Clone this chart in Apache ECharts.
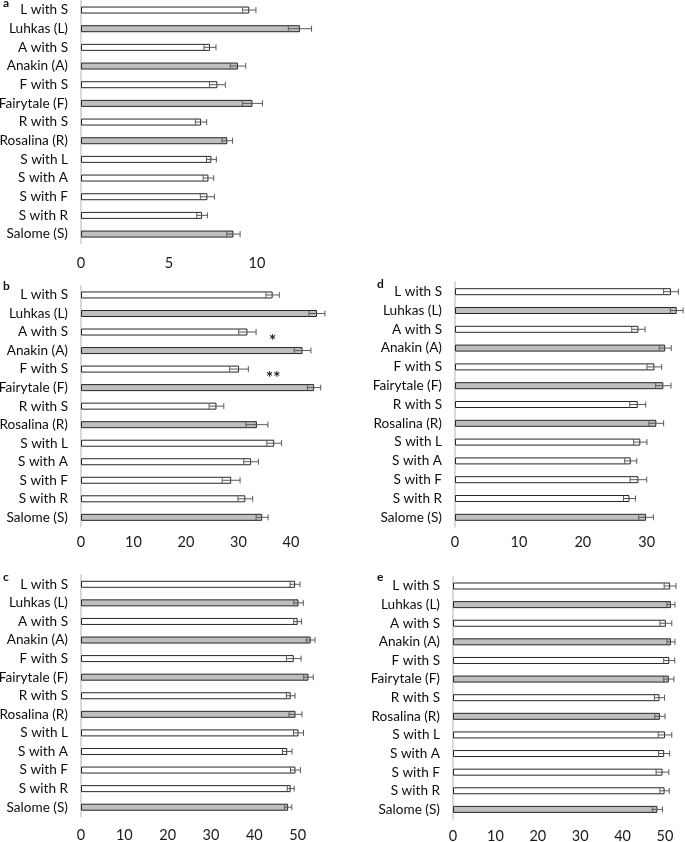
<!DOCTYPE html>
<html>
<head>
<meta charset="utf-8">
<script src="https://cdn.jsdelivr.net/npm/echarts@6/dist/echarts.min.js"></script>
<style>
html,body{margin:0;padding:0;background:#fff;}
#chart{width:685px;height:842px;}
</style>
</head>
<body>
<div id="chart"></div>
<script>
const categories = ['L with S','Luhkas (L)','A with S','Anakin (A)','F with S','Fairytale (F)','R with S','Rosalina (R)','S with L','S with A','S with F','S with R','Salome (S)'];
const isSolo = [false,true,false,true,false,true,false,true,false,false,false,false,true];

const valuesA = [9.56,12.44,7.33,8.92,7.75,9.74,6.82,8.31,7.41,7.24,7.18,6.88,8.66];
const errorsA = [0.38,0.66,0.34,0.44,0.45,0.57,0.32,0.30,0.28,0.30,0.40,0.30,0.38];

const valuesB = [36.5,44.95,31.7,42.2,30.1,44.4,25.8,33.5,36.8,32.4,28.6,31.3,34.5];
const errorsB = [1.27,1.52,1.65,1.6,1.78,1.27,1.4,2.1,1.4,1.4,1.7,1.4,1.14];

const valuesC = [49.4,50.2,50.0,53.0,49.1,52.5,48.4,49.5,50.2,47.6,49.5,48.4,47.8];
const errorsC = [1.15,1.1,0.9,1.0,1.7,1.1,1.0,1.5,1.15,1.1,1.15,0.8,0.85];

const valuesD = [33.8,34.7,28.7,32.9,31.2,32.6,28.6,31.5,29.0,27.5,28.7,27.3,29.9];
const errorsD = [1.15,1.0,1.04,0.94,1.15,1.2,1.25,1.15,1.04,0.94,1.3,0.94,1.15];

const valuesE = [51.2,51.4,50.2,51.4,51.0,50.9,48.7,48.8,50.0,49.8,49.4,49.9,48.2];
const errorsE = [1.4,0.95,1.4,0.95,1.3,1.2,1.2,1.2,1.6,1.3,1.5,1.1,1.2];

const tickLabelsA = [0,5,10];
const tickLabelsB = [0,10,20,30,40];
const tickLabelsC = [0,10,20,30,40,50];
const tickLabelsD = [0,10,20,30];
const tickLabelsE = [0,10,20,30,40,50];

// significance marks in panel b: [x value, upper category index, text]
const starX = [36.5, 36.6];
const starCat = [2, 4];
const starText = ['*', '**'];

const panelLetters = ['a','b','c','d','e'];

const FONT = 'Lato';
const FS = 13.6;
const panels = [
  {vals: valuesA, errs: errorsA, ticks: tickLabelsA, interval: 5,  max: 14, left: 81,  top: 0.7,   height: 242.7, scale: 17.6, xMargin: 12, letter: [3, -3]},
  {vals: valuesB, errs: errorsB, ticks: tickLabelsB, interval: 10, max: 48, left: 81,  top: 285.7, height: 240.9, scale: 5.25, xMargin: 8,  letter: [3, 280]},
  {vals: valuesC, errs: errorsC, ticks: tickLabelsC, interval: 10, max: 55, left: 81,  top: 575,   height: 241.5, scale: 4.333, xMargin: 11, letter: [3, 571]},
  {vals: valuesD, errs: errorsD, ticks: tickLabelsD, interval: 10, max: 36, left: 455, top: 282.3, height: 244.4, scale: 6.39, xMargin: 8,  letter: [377, 278]},
  {vals: valuesE, errs: errorsE, ticks: tickLabelsE, interval: 10, max: 54, left: 453, top: 576.7, height: 242,   scale: 4.24, xMargin: 10, letter: [377, 571]}
];

const grids = [], xAxes = [], yAxes = [], series = [], graphics = [];
panels.forEach((p, i) => {
  grids.push({left: p.left, top: p.top, width: p.max * p.scale, height: p.height, containLabel: false, outerBoundsMode: 'none'});
  const ticks = p.ticks;
  xAxes.push({
    gridIndex: i, type: 'value', min: 0, max: p.max, interval: p.interval,
    axisLine: {show: false}, axisTick: {show: false}, splitLine: {show: false},
    axisLabel: {
      fontFamily: FONT, fontSize: 14.5, color: '#1a1a1a', margin: p.xMargin,
      showMaxLabel: ticks.indexOf(p.max) >= 0,
      formatter: v => (ticks.indexOf(v) >= 0 ? String(v) : '')
    }
  });
  yAxes.push({
    gridIndex: i, type: 'category', data: categories, inverse: true,
    axisLine: {show: true, onZero: false, lineStyle: {color: '#d9d9d9', width: 2}},
    axisTick: {show: false}, splitLine: {show: false},
    axisLabel: {interval: 0, fontFamily: FONT, fontSize: FS, color: '#0d0d0d', margin: 13}
  });
  series.push({
    type: 'bar', xAxisIndex: i, yAxisIndex: i, barWidth: 7,
    data: p.vals.map((v, k) => ({value: v, itemStyle: {color: isSolo[k] ? '#bfbfbf' : '#ffffff'}})),
    itemStyle: {borderColor: '#262626', borderWidth: 1},
    silent: true, animation: false
  });
  series.push({
    type: 'custom', xAxisIndex: i, yAxisIndex: i,
    data: p.vals.map((v, k) => [k, v, p.errs[k]]),
    encode: {x: 1, y: 0},
    renderItem: (params, api) => {
      const k = api.value(0), v = api.value(1), e = api.value(2);
      const a = api.coord([v - e, k]);
      const b = api.coord([v + e, k]);
      const h = 3;
      const st = {stroke: '#5a5a5a', lineWidth: 1};
      return {type: 'group', children: [
        {type: 'line', shape: {x1: a[0], y1: a[1], x2: b[0], y2: b[1]}, style: st},
        {type: 'line', shape: {x1: a[0], y1: a[1] - h, x2: a[0], y2: a[1] + h}, style: st},
        {type: 'line', shape: {x1: b[0], y1: b[1] - h, x2: b[0], y2: b[1] + h}, style: st}
      ]};
    },
    z: 3, silent: true, animation: false
  });
  graphics.push({type: 'text', left: p.letter[0], top: p.letter[1],
    style: {text: panelLetters[i], font: 'bold 12px ' + FONT, fill: '#111'}});
});

// stars in panel b
series.push({
  type: 'custom', xAxisIndex: 1, yAxisIndex: 1,
  data: starX.map((x, k) => [starCat[k], x]),
  encode: {x: 1, y: 0},
  renderItem: (params, api) => {
    const c = api.value(0), x = api.value(1);
    const p1 = api.coord([x, c]);
    const p2 = api.coord([x, c + 1]);
    return {type: 'text', x: p1[0], y: (p1[1] + p2[1]) / 2,
      style: {text: starText[params.dataIndex], font: 'bold 17px ' + FONT, fill: '#222', align: 'center', verticalAlign: 'middle'}};
  },
  z: 4, silent: true, animation: false
});

const chart = echarts.init(document.getElementById('chart'), null, {renderer: 'canvas'});
chart.setOption({
  animation: false,
  backgroundColor: '#ffffff',
  grid: grids, xAxis: xAxes, yAxis: yAxes, series: series, graphic: graphics
});
</script>
</body>
</html>
